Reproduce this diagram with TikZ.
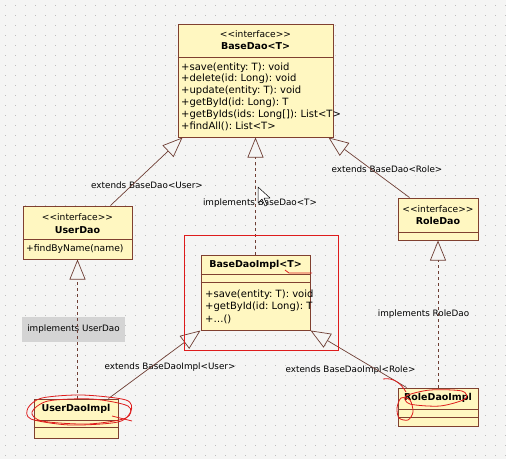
\documentclass[tikz,border=0pt]{standalone}
\usepackage{fontspec}
\setmainfont{DejaVu Sans}
\usetikzlibrary{arrows.meta,calc}
\definecolor{umlfill}{RGB}{255,247,193}
\definecolor{umledge}{RGB}{128,64,48}
\definecolor{umlline}{RGB}{110,62,52}
\definecolor{canvasbg}{RGB}{245,245,244}
\definecolor{canvasdot}{RGB}{190,190,190}
\definecolor{labelbg}{RGB}{212,212,212}
\definecolor{markred}{RGB}{222,28,28}
\frenchspacing
\newcommand{\stereo}{<\kern0pt<interface>\kern0pt>}
% class box from corner (#2,#3) to corner (#4,#5)
\newcommand{\classbox}[5]{%
  \node[classframe,minimum width={(#4-#2)*1pt},minimum height={(#5-#3)*1pt}]
    (#1) at ({(#2+#4)/2},{(#3+#5)/2}) {};
}
\newcommand{\classsep}[2]{%
  \draw[classline] (#1.west |- 0,#2) -- (#1.east |- 0,#2);
}
\tikzset{
  classframe/.style={draw=umledge,fill=umlfill,line width=1pt,inner sep=0pt},
  classline/.style={draw=umledge,line width=.9pt},
  plaintext/.style={inner sep=0pt,font={\fontsize{9.1}{11}\selectfont}},
  nametext/.style={plaintext,font={\fontsize{9.5}{11}\selectfont\bfseries}},
  membertext/.style={plaintext,anchor=west,font={\fontsize{10}{12}\selectfont}},
  edgelabel/.style={plaintext,font={\fontsize{8.8}{11}\selectfont}},
  extendsline/.style={draw=umlline,line width=.7pt,
    -{Triangle[open,length=20pt,width=16pt,fill=canvasbg]}},
  implline/.style={extendsline,dash pattern=on 3pt off 3pt},
  scribble/.style={draw=markred,line width=.8pt}
}

\begin{document}
\begin{tikzpicture}[x=1pt,y=-1pt]
  \useasboundingbox (0,0) rectangle (506,459);
  \fill[canvasbg] (0,0) rectangle (506,459);
  \foreach \i in {0,...,50}
    \foreach \j in {0,...,45}
      \fill[canvasdot] (5+10*\i,5+10*\j) rectangle ++(1,1);

  % classes
  \classbox{basedao}{178}{24}{333}{137}
  \classsep{basedao}{57}
  \node[plaintext] (basestereo) at (255.5,34) {\stereo};
  \node[nametext] (basename) at (255.5,46) {BaseDao<T>};
  \foreach \meth [count=\k] in {{+save(entity: T): void},{+delete(id: Long): void},
      {+update(entity: T): void},{+getById(id: Long): T},
      {+getByIds(ids: Long[]): List<T>},{+findAll(): List<T>}}
    \node[membertext] (basem\k) at (181,{55.5+11.8*\k}) {\meth};

  \classbox{userdao}{23}{206}{132}{259}
  \classsep{userdao}{239}
  \node[plaintext] (userstereo) at (77.5,217) {\stereo};
  \node[nametext] (username) at (77.5,230) {UserDao};
  \node[membertext,font={\fontsize{9.2}{11}\selectfont}] (userm1) at (26,249) {+findByName(name)};

  \classbox{roledao}{398}{198}{478}{240}
  \classsep{roledao}{232}
  \node[plaintext] (rolestereo) at (438,209) {\stereo};
  \node[nametext] (rolename) at (438,221) {RoleDao};

  \classbox{basedaoimpl}{201}{255}{310}{330}
  \classsep{basedaoimpl}{274}
  \classsep{basedaoimpl}{282}
  \node[nametext] (implname) at (255.5,265) {BaseDaoImpl<T>};
  \foreach \meth [count=\k] in {{+save(entity: T): void},{+getById(id: Long): T},{+\dots()}}
    \node[membertext] (implm\k) at (205,{283+12*\k}) {\meth};

  \classbox{userdaoimpl}{34}{399}{118}{438}
  \classsep{userdaoimpl}{420}
  \classsep{userdaoimpl}{427}
  \node[nametext] (uimplname) at (76,409) {UserDaoImpl};

  \classbox{roledaoimpl}{398}{388}{478}{426}
  \classsep{roledaoimpl}{409}
  \classsep{roledaoimpl}{417}
  \node[nametext] (rimplname) at (438,398) {RoleDaoImpl};

  % labels
  \node[edgelabel] (lblextuser) at (147,185) {extends BaseDao<User>};
  \node[edgelabel] (lblextrole) at (387,169) {extends BaseDao<Role>};
  \node[edgelabel] (lblimplbase) at (260,203) {implements BaseDao<T>};
  \node[edgelabel,fill=labelbg,minimum width=103pt,minimum height=25pt]
    (lblimpluser) at (73.5,329.5) {implements UserDao};
  \node[edgelabel] (lblimplrole) at (423.5,314) {implements RoleDao};
  \node[edgelabel] (lblextimpluser) at (170,367) {extends BaseDaoImpl<User>};
  \node[edgelabel] (lblextimplrole) at (350.5,370) {extends BaseDaoImpl<Role>};

  % connectors
  \draw[extendsline] ([xshift=-22pt]userdao.north east) -- ([xshift=5pt]basedao.south west);
  \draw[extendsline] ([xshift=12pt]roledao.north west) -- ([xshift=-5pt]basedao.south east);
  \draw[implline] (basedaoimpl.north) -- (basedao.south);
  \draw[implline] (userdaoimpl.north -| userdao.south) -- (userdao.south);
  \draw[implline] (roledaoimpl.north) -- (roledao.south);
  \draw[extendsline] ([xshift=-10pt]userdaoimpl.north east) -- (basedaoimpl.south west);
  \draw[extendsline] ([xshift=9pt]roledaoimpl.north west) -- (basedaoimpl.south east);

  % red marks
  \draw[markred,line width=.9pt] (184,235) rectangle (338,350);
  \draw[scribble] (285,270) -- (289,273) -- (312,273);
  \draw[scribble] plot[smooth cycle] coordinates {(28,408) (42,398) (82,395) (126,400)
    (131,411) (118,422) (70,425) (31,419)};
  \draw[scribble] plot[smooth cycle] coordinates {(32,412) (48,401) (92,399) (128,406)
    (126,418) (88,424) (42,421)};
  \draw[scribble] (112,416) -- (132,421);
  \draw[scribble] plot[smooth cycle] coordinates {(406,396) (430,390) (462,391)
    (465,399) (440,406) (410,404)};
  \draw[scribble] plot[smooth cycle] coordinates {(401,398) (410,400) (413,412)
    (408,420) (399,418) (397,408)};
  \draw[scribble] (383,379) to[out=10,in=120] (406,392);

  % mouse pointer
  \draw[black,fill=white,line width=.5pt,line join=round] (258,187) -- (258,203)
    -- (262,199) -- (265,206) -- (267,205) -- (264,198) -- (270,198) -- cycle;
\end{tikzpicture}
\end{document}
